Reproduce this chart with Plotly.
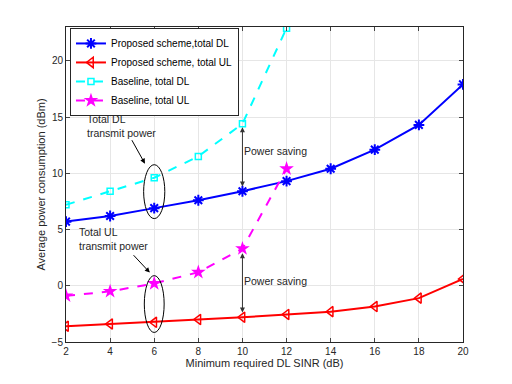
import plotly.graph_objects as go

sinr = [2, 4, 6, 8, 10, 12, 14, 16, 18, 20]
prop_dl = [5.7, 6.2, 6.9, 7.6, 8.4, 9.3, 10.4, 12.1, 14.3, 17.9]
prop_ul = [-3.6, -3.4, -3.25, -3.0, -2.8, -2.55, -2.3, -1.85, -1.1, 0.6]
base_x = [2, 4, 6, 8, 10, 12]
base_dl = [7.2, 8.4, 9.6, 11.5, 14.4, 22.9]
base_ul = [-0.9, -0.5, 0.2, 1.2, 3.3, 10.4]
x_ticks = [2, 4, 6, 8, 10, 12, 14, 16, 18, 20]
y_ticks = [-5, 0, 5, 10, 15, 20]

FONT = "Liberation Sans, Arial, Helvetica, sans-serif"
TXT = "#262626"

fig = go.Figure()
fig.add_trace(go.Scatter(x=sinr, y=prop_dl, mode="lines+markers", name="Proposed scheme,total DL",
                         line=dict(color="#0000FF", width=2),
                         marker=dict(symbol="asterisk-open", size=9, color="#0000FF",
                                     line=dict(color="#0000FF", width=2))))
fig.add_trace(go.Scatter(x=sinr, y=prop_ul, mode="lines+markers", name="Proposed scheme, total UL",
                         line=dict(color="#FF0000", width=2),
                         marker=dict(symbol="triangle-left-open", size=9, color="#FF0000",
                                     line=dict(color="#FF0000", width=1.5))))
fig.add_trace(go.Scatter(x=base_x, y=base_dl, mode="lines+markers", name="Baseline, total DL",
                         line=dict(color="#00FFFF", width=2, dash="dash"),
                         marker=dict(symbol="square-open", size=6, color="#00FFFF",
                                     line=dict(color="#00FFFF", width=1.5))))
fig.add_trace(go.Scatter(x=base_x, y=base_ul, mode="lines+markers", name="Baseline, total UL",
                         line=dict(color="#FF00FF", width=2, dash="dash"),
                         marker=dict(symbol="star", size=11, color="#FF00FF",
                                     line=dict(color="#FF00FF", width=0))))

# ellipses
fig.add_shape(type="circle", xref="x", yref="y", x0=5.52, x1=6.48, y0=5.97, y1=10.76,
              line=dict(color="black", width=1))
fig.add_shape(type="circle", xref="x", yref="y", x0=5.55, x1=6.45, y0=-4.15, y1=0.9,
              line=dict(color="black", width=1))

ann = []
ann.append(dict(x=2.85, y=14.2, xref="x", yref="y", text="Total DL<br>transmit power", showarrow=False,
                xanchor="left", yanchor="middle", align="left", font=dict(size=10.5, color=TXT)))
ann.append(dict(x=2.5, y=4.2, xref="x", yref="y", text="Total UL<br>transmit power", showarrow=False,
                xanchor="left", yanchor="middle", align="left", font=dict(size=10.5, color=TXT)))
ann.append(dict(x=10.0, y=12.0, xref="x", yref="y", text="Power saving", showarrow=False,
                xanchor="left", yanchor="middle", font=dict(size=10.5, color=TXT)))
ann.append(dict(x=10.0, y=0.46, xref="x", yref="y", text="Power saving", showarrow=False,
                xanchor="left", yanchor="middle", font=dict(size=10.5, color=TXT)))
ann.append(dict(x=5.58, y=10.85, ax=4.95, ay=13.07, xref="x", yref="y", axref="x", ayref="y", text="",
                showarrow=True, arrowhead=2, arrowsize=1, arrowwidth=1, arrowcolor="black"))
ann.append(dict(x=5.8, y=1.17, ax=5.0, ay=2.85, xref="x", yref="y", axref="x", ayref="y", text="",
                showarrow=True, arrowhead=2, arrowsize=1, arrowwidth=1, arrowcolor="black"))
ann.append(dict(x=10, y=base_dl[4] - 0.3, ax=10, ay=prop_dl[4] + 0.3, xref="x", yref="y", axref="x", ayref="y",
                text="", showarrow=True, arrowhead=2, startarrowhead=2, arrowside="end+start",
                arrowsize=1, arrowwidth=1, arrowcolor="#333333"))
ann.append(dict(x=10, y=base_ul[4] - 0.4, ax=10, ay=prop_ul[4] + 0.3, xref="x", yref="y", axref="x", ayref="y",
                text="", showarrow=True, arrowhead=2, startarrowhead=2, arrowside="end+start",
                arrowsize=1, arrowwidth=1, arrowcolor="#333333"))

fig.update_layout(
    width=512, height=384,
    margin=dict(l=66, r=49, t=27, b=42),
    paper_bgcolor="white", plot_bgcolor="white",
    font=dict(family=FONT, size=10, color=TXT),
    annotations=ann,
    showlegend=True,
    legend=dict(x=0.01, y=0.997, xanchor="left", yanchor="top",
                bgcolor="white", bordercolor=TXT, borderwidth=1,
                font=dict(size=10, color="black"), itemwidth=30,
                tracegroupgap=0, traceorder="normal"),
    xaxis=dict(range=[2, 20], tickvals=x_ticks, ticks="inside", ticklen=4,
               showline=True, linecolor=TXT, linewidth=1, mirror="ticks",
               showgrid=True, gridcolor="#E6E6E6", zeroline=False,
               title=dict(text="Minimum required DL SINR (dB)", standoff=0, font=dict(size=11))),
    yaxis=dict(range=[-5, 23], tickvals=y_ticks, ticks="inside", ticklen=4,
               showline=True, linecolor=TXT, linewidth=1, mirror="ticks",
               showgrid=True, gridcolor="#E6E6E6", zeroline=False,
               title=dict(text="Average power consumption (dBm)", standoff=3, font=dict(size=11))),
)

fig.write_html("out.html", config={"displayModeBar": False},
               post_script="document.body.style.margin='0px';")
